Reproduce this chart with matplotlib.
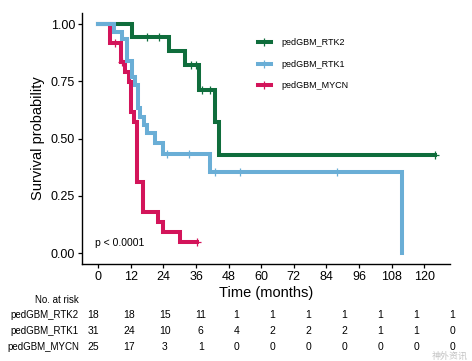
import numpy as np
import matplotlib
matplotlib.use('Agg')
import matplotlib.pyplot as plt
from matplotlib.lines import Line2D

plt.rcParams['font.family'] = ['Liberation Sans', 'Noto Sans CJK SC', 'DejaVu Sans']

# Kaplan-Meier steps (time in months, survival)
rtk2_t = [0, 12.4, 25.9, 32.0, 36.9, 43.1, 44.3, 123.8]
rtk2_s = [1.0, 0.944, 0.885, 0.822, 0.712, 0.574, 0.428, 0.428]
rtk2_cens = [17.9, 22.2, 34.0, 35.8, 38.2, 41.2, 123.8]

rtk1_t = [0, 5.6, 8.7, 10.6, 12.4, 13.6, 14.5, 15.5, 16.7, 17.9, 21.0, 24.0, 41.2, 112.0]
rtk1_s = [1.0, 0.967, 0.935, 0.839, 0.771, 0.734, 0.632, 0.596, 0.559, 0.523, 0.479,
          0.433, 0.355, 0.0]
rtk1_cens = [25.3, 33.4, 43.0, 52.0, 87.8]

mycn_t = [0, 4.2, 8.3, 9.9, 11.2, 12.0, 13.0, 14.2, 16.4, 21.8, 24.0, 30.2, 36.5]
mycn_s = [1.0, 0.917, 0.836, 0.792, 0.749, 0.618, 0.574, 0.31, 0.18, 0.137, 0.093,
          0.049, 0.049]
mycn_cens = [6.3, 8.9, 36.5]

groups = ['pedGBM_RTK2', 'pedGBM_RTK1', 'pedGBM_MYCN']
colors = ['#0f6d3c', '#6aaed6', '#d3145a']

# numbers at risk
risk_times = [0, 12, 24, 36, 48, 60, 72, 84, 96, 108, 120]
rtk2_risk = [18, 18, 15, 11, 1, 1, 1, 1, 1, 1, 1]
rtk1_risk = [31, 24, 10, 6, 4, 2, 2, 2, 1, 1, 0]
mycn_risk = [25, 17, 3, 1, 0, 0, 0, 0, 0, 0, 0]

p_text = 'p < 0.0001'


def surv_at(t, times, surv):
    idx = np.searchsorted(times, t, side='right') - 1
    return np.array(surv)[idx]


W, H = 472, 361
fig = plt.figure(figsize=(W / 100, H / 100), dpi=100)
ax = fig.add_axes([82 / W, 1 - 264 / H, (450 - 82) / W, (264 - 12.8) / H])

curves = [(rtk2_t, rtk2_s, rtk2_cens), (rtk1_t, rtk1_s, rtk1_cens),
          (mycn_t, mycn_s, mycn_cens)]
zorders = [2, 4, 3]
for (t, s, c), col, z in zip(curves, colors, zorders):
    ax.step(t, s, where='post', color=col, lw=2.9, zorder=z, solid_joinstyle='miter')
    ax.plot(c, surv_at(c, t, s), ls='none', marker='+', ms=5.5, mew=0.9,
            color=col, zorder=z + 0.5)

ax.set_xlim(-6, 129.5)
ax.set_ylim(-0.048, 1.05)
ax.set_xticks(risk_times)
ax.set_yticks([0, 0.25, 0.5, 0.75, 1.0])
ax.set_yticklabels(['0.00', '0.25', '0.50', '0.75', '1.00'])
ax.tick_params(labelsize=9, length=3, width=0.9, color='black', pad=2)
for side in ['top', 'right']:
    ax.spines[side].set_visible(False)
for side in ['left', 'bottom']:
    ax.spines[side].set_linewidth(1.0)
ax.set_ylabel('Survival probability', fontsize=10.5, labelpad=4)
ax.set_xlabel('Time (months)', fontsize=10.5, labelpad=2)

ax.text(-1.2, 0.045, p_text, fontsize=7.5, va='center', ha='left')

handles = [Line2D([], [], color=col, lw=2.9, marker='+', ms=5.5, mew=0.9) for col in colors]
ax.legend(handles, groups, loc='upper left', bbox_to_anchor=(250 / W, 1 - 30 / H),
          bbox_transform=fig.transFigure, frameon=False, fontsize=6.5,
          handlelength=1.4, handletextpad=1.2, labelspacing=1.4)

# risk table
fig.text(79 / W, 1 - 300 / H, 'No. at risk', fontsize=7, ha='right', va='center')
col_x = np.linspace(93, 452, len(risk_times)) / W
row_y = [315, 331.5, 346.5]
for name, risk, yy in zip(groups, [rtk2_risk, rtk1_risk, mycn_risk], row_y):
    fig.text(79 / W, 1 - yy / H, name, fontsize=7, ha='right', va='center')
    for xx, n in zip(col_x, risk):
        fig.text(xx, 1 - yy / H, str(n), fontsize=7.5, ha='center', va='center')

# watermark
fig.text(468 / W, 1 - 356 / H, '神外资讯', fontsize=6.5, ha='right', va='center',
         color='#999999', alpha=0.6)

fig.savefig('out.png', dpi=100)
